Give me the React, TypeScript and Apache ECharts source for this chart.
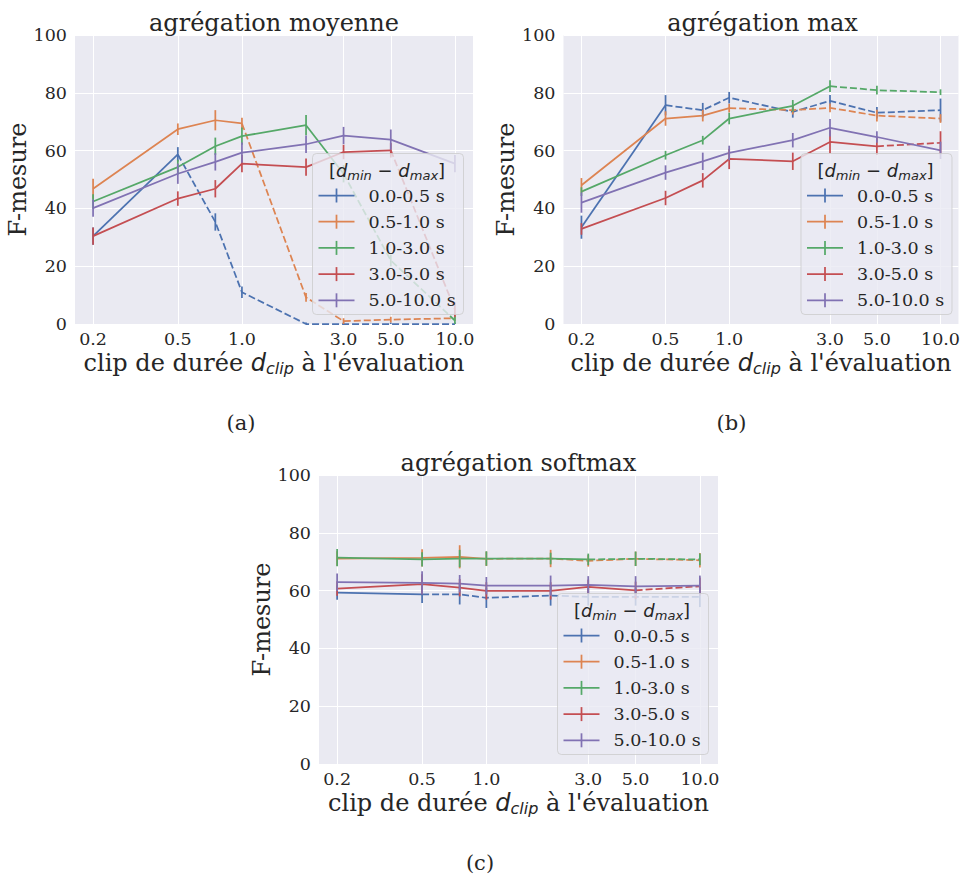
import React, { useEffect, useRef } from "react";
import * as echarts from "echarts";

// ---- data ----
const clipDurations = [0.2, 0.5, 0.75, 1.0, 2.0, 3.0, 5.0, 10.0];
const xTickValues = [0.2, 0.5, 1.0, 3.0, 5.0, 10.0];
const rangeLabels = ["0.0-0.5 s", "0.5-1.0 s", "1.0-3.0 s", "3.0-5.0 s", "5.0-10.0 s"];
const rangeMaxima = [0.5, 1.0, 3.0, 5.0, 10.0];
const panelTitles = ["agrégation moyenne", "agrégation max", "agrégation softmax"];
const panelCaptions = ["(a)", "(b)", "(c)"];
const seriesColors = ["#4C72B0", "#DD8452", "#55A868", "#C44E52", "#8172B3"];

// (a) agrégation moyenne
const moyR1 = [30.4, 58.7, 35.3, 11.0, 0, 0, 0, 0];
const moyR2 = [46.8, 67.4, 70.5, 69.4, 9.2, 1.0, 1.5, 2.0];
const moyR3 = [42.4, 54.3, 61.5, 65.0, 68.8, 52.0, 22.0, 1.2];
const moyR4 = [30.4, 43.4, 46.8, 55.5, 54.3, 59.5, 60.1, 5.0];
const moyR5 = [40.1, 52.0, 56.1, 59.3, 62.2, 65.2, 63.8, 55.5];
const moyE1 = [3, 2.5, 3, 2, 0.5, 0.5, 0.5, 0.5];
const moyE2 = [3.5, 2, 3.5, 2, 1.5, 1, 1, 1];
const moyE3 = [2.5, 2.5, 3, 3, 3.5, 3, 2, 1.5];
const moyE4 = [3, 2.5, 3, 3, 3, 2.5, 2.5, 2.5];
const moyE5 = [3, 3.5, 3, 3.5, 3, 3, 3.5, 3];

// (b) agrégation max
const maxR1 = [33.5, 75.7, 74.0, 78.3, 73.4, 77.2, 73.1, 74.0];
const maxR2 = [48.0, 71.1, 72.1, 74.7, 74.0, 74.8, 72.1, 71.1];
const maxR3 = [45.8, 58.4, 63.6, 71.1, 75.5, 82.3, 80.9, 80.2];
const maxR4 = [32.9, 43.6, 49.7, 57.1, 56.3, 63.0, 61.5, 62.7];
const maxR5 = [42.0, 52.4, 56.3, 59.2, 63.6, 67.9, 64.7, 60.1];
const maxE1 = [4, 3.5, 2.5, 2, 2, 2, 2, 4];
const maxE2 = [2.5, 2.5, 2, 1.5, 1.5, 1.5, 2, 1.5];
const maxE3 = [1.5, 1.5, 1.5, 2, 2, 2, 1.5, 1];
const maxE4 = [2, 2.5, 2.5, 3.5, 3, 4, 3, 4];
const maxE5 = [3.5, 2.5, 3, 2.5, 2.5, 3, 2, 3];

// (c) agrégation softmax
const softR1 = [59.3, 58.7, 58.7, 57.5, 58.3, 57.8, 57.8, 57.8];
const softR2 = [71.1, 71.3, 71.7, 71.0, 71.1, 70.3, 71.0, 70.5];
const softR3 = [71.4, 70.8, 71.1, 71.1, 71.1, 70.8, 71.0, 70.8];
const softR4 = [60.7, 62.2, 61.0, 59.9, 59.9, 61.3, 60.1, 61.5];
const softR5 = [62.9, 62.7, 62.4, 61.7, 61.7, 62.0, 61.5, 61.7];
const softE1 = [2.5, 3, 3.5, 3.5, 3.5, 3, 3, 3.5];
const softE2 = [2.5, 3, 4, 2.5, 3, 2, 2.5, 2.5];
const softE3 = [3, 2.5, 3, 2.5, 2, 2, 2.5, 2];
const softE4 = [2.5, 3.5, 3, 3, 3, 2.5, 3, 3];
const softE5 = [3, 4, 3, 3, 3.5, 3, 3.5, 3.5];

const panelValues = [
  [moyR1, moyR2, moyR3, moyR4, moyR5],
  [maxR1, maxR2, maxR3, maxR4, maxR5],
  [softR1, softR2, softR3, softR4, softR5],
];
const panelErrors = [
  [moyE1, moyE2, moyE3, moyE4, moyE5],
  [maxE1, maxE2, maxE3, maxE4, maxE5],
  [softE1, softE2, softE3, softE4, softE5],
];

// ---- layout / style ----
const grids = [
  { left: 75, top: 35, width: 398, height: 289 },
  { left: 563.5, top: 35, width: 398, height: 289 },
  { left: 319, top: 475, width: 399, height: 289 },
];
const captionX = [241, 731.5, 480];
const TEXT = "#262626";
const SERIF = "DejaVu Serif";
const SANS = "DejaVu Sans";
const LW = 1.75;
const TICK_FS = 17.5;
const LABEL_FS = 24;

function buildOption() {
  const series: any[] = [];
  const xAxis: any[] = [];
  const yAxis: any[] = [];
  const graphic: any[] = [];

  grids.forEach((g, p) => {
    xAxis.push({
      type: "log",
      logBase: 10,
      gridIndex: p,
      min: 0.1645,
      max: 12.16,
      axisLine: { show: false },
      axisTick: { show: false, customValues: xTickValues },
      axisLabel: {
        customValues: xTickValues,
        formatter: (v: number) => Number(v).toFixed(1),
        fontSize: TICK_FS,
        fontFamily: SERIF,
        color: TEXT,
        margin: 6,
      },
      splitLine: { show: true, lineStyle: { color: "#ffffff", width: 1 } },
      minorSplitLine: { show: false },
      name: "clip de durée {d|d}{s|clip} à l'évaluation",
      nameLocation: "middle",
      nameGap: 23,
      nameTextStyle: {
        fontSize: LABEL_FS,
        fontFamily: SERIF,
        color: TEXT,
        lineHeight: 28,
        rich: {
          d: { fontSize: LABEL_FS, fontFamily: SANS, fontStyle: "italic", color: TEXT, lineHeight: 28 },
          s: {
            fontSize: 16,
            fontFamily: SANS,
            fontStyle: "italic",
            color: TEXT,
            lineHeight: 17,
            verticalAlign: "bottom",
          },
        },
      },
    });
    yAxis.push({
      type: "value",
      gridIndex: p,
      min: 0,
      max: 100,
      interval: 20,
      axisLine: { show: false },
      axisTick: { show: false },
      axisLabel: { fontSize: TICK_FS, fontFamily: SERIF, color: TEXT, margin: 8 },
      splitLine: { show: true, lineStyle: { color: "#ffffff", width: 1 } },
      name: "F-mesure",
      nameLocation: "middle",
      nameGap: 37,
      nameTextStyle: { fontSize: LABEL_FS, fontFamily: SERIF, color: TEXT },
    });

    panelValues[p].forEach((vals, s) => {
      const color = seriesColors[s];
      const cut = clipDurations.findIndex((x) => x >= rangeMaxima[s]);
      const solid = clipDurations.slice(0, cut + 1).map((x, j) => [x, vals[j]]);
      const dashed = clipDurations.slice(cut).map((x, j) => [x, vals[cut + j]]);
      series.push({
        type: "line",
        name: rangeLabels[s],
        xAxisIndex: p,
        yAxisIndex: p,
        data: solid,
        symbol: "none",
        showSymbol: false,
        silent: true,
        lineStyle: { color, width: LW },
        itemStyle: { color },
        z: 2,
      });
      if (dashed.length > 1) {
        series.push({
          type: "line",
          name: rangeLabels[s] + " (d_clip > d_max)",
          xAxisIndex: p,
          yAxisIndex: p,
          data: dashed,
          symbol: "none",
          showSymbol: false,
          silent: true,
          lineStyle: { color, width: LW, type: [7, 3] },
          itemStyle: { color },
          z: 2,
        });
      }
      const errs = panelErrors[p][s];
      series.push({
        type: "custom",
        name: rangeLabels[s] + " err",
        xAxisIndex: p,
        yAxisIndex: p,
        silent: true,
        clip: true,
        z: 3,
        encode: { x: 0, y: 1 },
        data: clipDurations.map((x, j) => [x, vals[j], errs[j]]),
        renderItem: (_params: any, api: any) => {
          const x = api.value(0);
          const y = api.value(1);
          const e = api.value(2);
          const p1 = api.coord([x, Math.max(0, y - e)]);
          const p2 = api.coord([x, y + e]);
          return {
            type: "line",
            shape: { x1: p1[0], y1: p1[1], x2: p2[0], y2: p2[1] },
            style: { stroke: color, lineWidth: LW },
          };
        },
      });
    });

    // title
    const cx = g.left + g.width / 2;
    graphic.push({
      type: "text",
      x: cx,
      y: g.top - 12,
      z: 100,
      style: {
        text: panelTitles[p],
        fontSize: LABEL_FS,
        fontFamily: SERIF,
        fill: TEXT,
        align: "center",
        verticalAlign: "middle",
      },
    });
    // caption
    graphic.push({
      type: "text",
      x: captionX[p],
      y: g.top + g.height + 99,
      z: 100,
      style: {
        text: panelCaptions[p],
        fontSize: 21,
        fontFamily: SERIF,
        fill: TEXT,
        align: "center",
        verticalAlign: "middle",
      },
    });

    // legend box
    const LWd = 151;
    const LH = 161;
    const L = g.left + g.width - 9.5 - LWd;
    const T = g.top + g.height - 9.5 - LH;
    graphic.push({
      type: "rect",
      z: 100,
      shape: { x: L, y: T, width: LWd, height: LH, r: 4 },
      style: { fill: "rgba(234,234,242,0.8)", stroke: "rgba(204,204,204,0.8)", lineWidth: 1 },
    });
    graphic.push({
      type: "text",
      z: 101,
      x: L + 74.5,
      y: T + 17,
      style: {
        text: "{t|[}{i|d}{s|min}{t| − }{i|d}{s|max}{t|]}",
        align: "center",
        verticalAlign: "middle",
        fill: TEXT,
        fontSize: 18,
        fontFamily: SANS,
        rich: {
          t: { fontSize: 18, fontFamily: SANS, fill: TEXT, lineHeight: 22 },
          i: { fontSize: 18, fontFamily: SANS, fontStyle: "italic", fill: TEXT, lineHeight: 22 },
          s: {
            fontSize: 13,
            fontFamily: SANS,
            fontStyle: "italic",
            fill: TEXT,
            lineHeight: 13,
            verticalAlign: "bottom",
          },
        },
      },
    });
    rangeLabels.forEach((lab, s) => {
      const ry = T + 42 + s * 26.2;
      graphic.push({
        type: "line",
        z: 101,
        shape: { x1: L + 6, y1: ry, x2: L + 42, y2: ry },
        style: { stroke: seriesColors[s], lineWidth: LW },
      });
      graphic.push({
        type: "line",
        z: 101,
        shape: { x1: L + 24, y1: ry - 7, x2: L + 24, y2: ry + 7 },
        style: { stroke: seriesColors[s], lineWidth: LW },
      });
      graphic.push({
        type: "text",
        z: 101,
        x: L + 56,
        y: ry,
        style: {
          text: lab,
          fontSize: TICK_FS,
          fontFamily: SERIF,
          fill: TEXT,
          align: "left",
          verticalAlign: "middle",
        },
      });
    });
  });

  return {
    animation: false,
    backgroundColor: "#ffffff",
    grid: grids.map((g) => ({
      ...g,
      show: true,
      backgroundColor: "#EAEAF2",
      borderWidth: 0,
      containLabel: false,
    })),
    xAxis,
    yAxis,
    series,
    graphic,
  };
}

export default function App() {
  const ref = useRef<HTMLDivElement>(null);
  useEffect(() => {
    if (!ref.current) return;
    const chart = echarts.init(ref.current, undefined, { renderer: "svg" });
    chart.setOption(buildOption() as any);
    return () => chart.dispose();
  }, []);
  return (
    <div
      ref={ref}
      style={{ position: "absolute", left: 0, top: 0, width: 963, height: 875, background: "#fff" }}
    />
  );
}
